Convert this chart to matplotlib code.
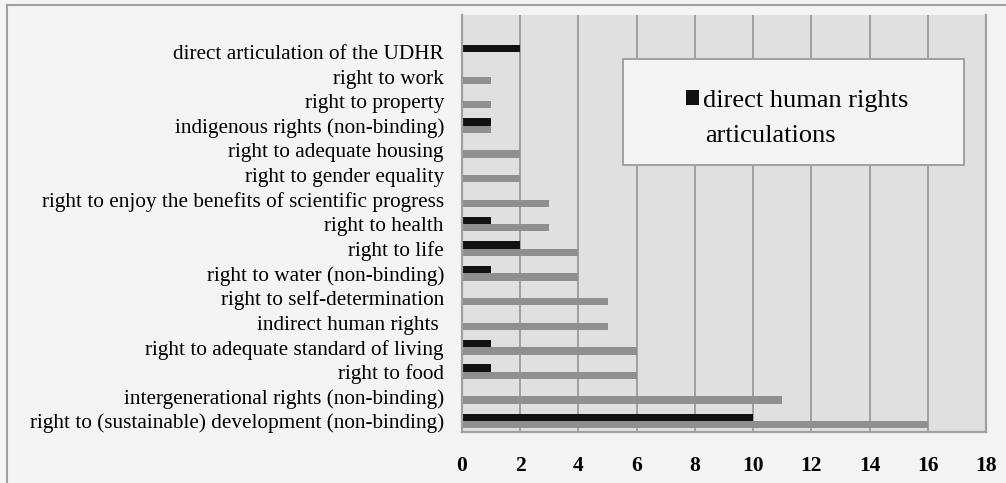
import matplotlib
matplotlib.use("Agg")
import matplotlib.pyplot as plt
from matplotlib.lines import Line2D
from matplotlib.patches import Rectangle
import numpy as np

categories = [
    "direct articulation of the UDHR",
    "right to work",
    "right to property",
    "indigenous rights (non-binding)",
    "right to adequate housing",
    "right to gender equality",
    "right to enjoy the benefits of scientific progress",
    "right to health",
    "right to life",
    "right to water (non-binding)",
    "right to self-determination",
    "indirect human rights ",
    "right to adequate standard of living",
    "right to food",
    "intergenerational rights (non-binding)",
    "right to (sustainable) development (non-binding)",
]
direct = [2, 0, 0, 1, 0, 0, 0, 1, 2, 1, 0, 0, 1, 1, 0, 10]
total = [0, 1, 1, 1, 2, 2, 3, 3, 4, 4, 5, 5, 6, 6, 11, 16]
xticks = [0, 2, 4, 6, 8, 10, 12, 14, 16, 18]
legend_line1 = "direct human rights"
legend_line2 = "articulations"

W, H = 1006, 483
fig = plt.figure(figsize=(W / 100, H / 100), dpi=100, facecolor="#f4f4f4")
ax = fig.add_axes([462 / W, (H - 432) / H, (986 - 462) / W, (432 - 15) / H])
ax.set_facecolor("#e0e0e0")

n = len(categories)
y = np.arange(n)[::-1].astype(float)
bh = 0.3
ax.barh(y - bh / 2, total, height=bh, color="#8f8f8f", zorder=3)
bars_direct = ax.barh(y + bh / 2, direct, height=bh, color="#111111", zorder=4)

ax.set_xlim(0, 18)
ax.set_ylim(-0.45, 16.5)
ax.set_xticks(xticks)
ax.set_xticklabels([str(v) for v in xticks], fontfamily="Liberation Serif",
                   fontweight="bold", fontsize=15.5)
ax.set_yticks(y)
ax.set_yticklabels(categories, fontfamily="Liberation Serif", fontsize=15.3)
ax.tick_params(axis="y", length=0, pad=13)
ax.tick_params(axis="x", length=0, pad=17)
ax.grid(axis="x", color="#a0a0a0", linewidth=1.4, zorder=1)
ax.set_axisbelow(True)
for s in ["left", "right", "bottom"]:
    ax.spines[s].set_color("#a0a0a0")
    ax.spines[s].set_linewidth(1.6)
ax.spines["top"].set_visible(False)
ax.spines["left"].set_zorder(5)

# legend box
fig.add_artist(Rectangle((623 / W, (H - 165) / H), (964 - 623) / W, (165 - 59) / H,
                         transform=fig.transFigure, facecolor="#f4f4f4",
                         edgecolor="#a0a0a0", linewidth=1.4, zorder=6))
leg = fig.legend([bars_direct], [legend_line1], loc="center left",
                 bbox_to_anchor=(686 / W, (H - 100.5) / H), frameon=False,
                 prop={"family": "Liberation Serif", "size": 19},
                 handlelength=0.5, handleheight=0.5, handletextpad=0.15,
                 borderpad=0, borderaxespad=0)
leg.set_zorder(7)
fig.text(705 / W, (H - 136.5) / H, legend_line2, fontfamily="Liberation Serif",
         fontsize=19, ha="left", va="center", zorder=8)

# outer frame
fig.add_artist(Line2D([7 / W, 7 / W], [0, (H - 5) / H], transform=fig.transFigure,
                      color="#a0a0a0", linewidth=1.5))
fig.add_artist(Line2D([7 / W, 1], [(H - 5) / H, (H - 5) / H], transform=fig.transFigure,
                      color="#a0a0a0", linewidth=1.5))

fig.savefig("out.png", dpi=100, facecolor=fig.get_facecolor())
